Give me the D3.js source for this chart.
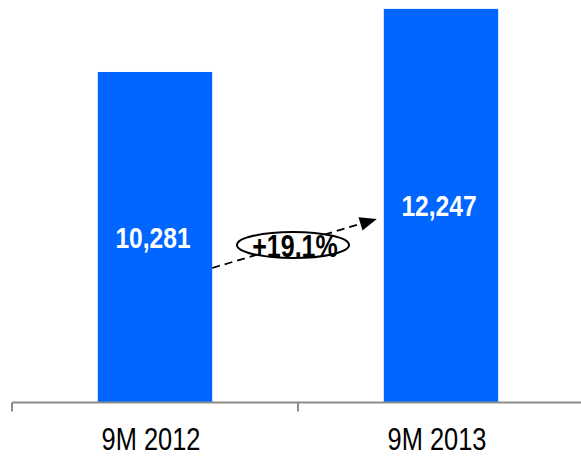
<!DOCTYPE html>
<html>
<head>
<meta charset="utf-8">
<script src="https://cdn.jsdelivr.net/npm/d3@7"></script>
<style>
  html, body { margin: 0; padding: 0; background: #fff; }
  svg { display: block; }
  text { font-family: "Liberation Sans", Arial, sans-serif; }
</style>
</head>
<body>
<script>
const categories = ["9M 2012", "9M 2013"];
const values = [10281, 12247];
const valueLabels = ["10,281", "12,247"];
const growthLabel = "+19.1%";

const W = 581, H = 456;
const NARROW = 0.82;
const svg = d3.select("body").append("svg").attr("width", W).attr("height", H);

const x = d3.scaleBand().domain(categories).range([12, 584]).paddingInner(0.6).paddingOuter(0.3);
const y = d3.scaleLinear().domain([0, 12524]).range([402, 0]);

// bars
svg.selectAll("rect.bar").data(values).join("rect")
  .attr("class", "bar")
  .attr("x", (d, i) => x(categories[i]))
  .attr("y", d => y(d))
  .attr("width", x.bandwidth())
  .attr("height", d => y(0) - y(d))
  .attr("fill", "#0066FF");

// value labels
svg.selectAll("text.val").data(values).join("text")
  .attr("class", "val")
  .attr("transform", (d, i) => `translate(${x(categories[i]) + x.bandwidth() / 2 - 2},${(y(d) + y(0)) / 2}) scale(${NARROW},1)`)
  .attr("dy", "0.36em")
  .attr("text-anchor", "middle")
  .attr("fill", "#fff")
  .attr("font-weight", "bold")
  .attr("font-size", 30)
  .text((d, i) => valueLabels[i]);

// axis
const axisY = y(0) + 0.5;
const r0 = x.range()[0];
svg.append("line").attr("x1", r0).attr("x2", x.range()[1]).attr("y1", axisY).attr("y2", axisY)
  .attr("stroke", "#8c8c8c").attr("stroke-width", 2);
d3.range(categories.length + 1).forEach(i => {
  const tx = r0 + i * x.step();
  svg.append("line").attr("x1", tx).attr("x2", tx).attr("y1", axisY).attr("y2", axisY + 9)
    .attr("stroke", "#8c8c8c").attr("stroke-width", 2);
});
svg.selectAll("text.cat").data(categories).join("text")
  .attr("class", "cat")
  .attr("transform", d => `translate(${x(d) + x.bandwidth() / 2 - 4},449.5) scale(${NARROW},1)`)
  .attr("text-anchor", "middle")
  .attr("fill", "#000")
  .attr("font-size", 31)
  .text(d => d);

// growth arrow
const x1 = x(categories[0]) + x.bandwidth();
const x2 = x(categories[1]);
const ax0 = x1, ay0 = 268, ax1 = x2 - 7, ay1 = 219;
const ang = Math.atan2(ay1 - ay0, ax1 - ax0);
const headL = 17, headW = 7;
const bx = ax1 - headL * Math.cos(ang), by = ay1 - headL * Math.sin(ang);
svg.append("line").attr("x1", ax0).attr("y1", ay0).attr("x2", bx).attr("y2", by)
  .attr("stroke", "#000").attr("stroke-width", 1.8).attr("stroke-dasharray", "8,5");
const px = -Math.sin(ang), py = Math.cos(ang);
svg.append("polygon")
  .attr("points", [[ax1, ay1], [bx + px * headW, by + py * headW], [bx - px * headW, by - py * headW]].map(p => p.join(",")).join(" "))
  .attr("fill", "#000");

svg.append("ellipse").attr("cx", 293).attr("cy", 245).attr("rx", 56).attr("ry", 13)
  .attr("fill", "#fff").attr("stroke", "#000").attr("stroke-width", 2);
svg.append("text")
  .attr("transform", `translate(295,256.5) scale(${NARROW},1)`)
  .attr("text-anchor", "middle").attr("font-weight", "bold").attr("font-size", 30.5)
  .attr("fill", "#000").text(growthLabel);
</script>
</body>
</html>
